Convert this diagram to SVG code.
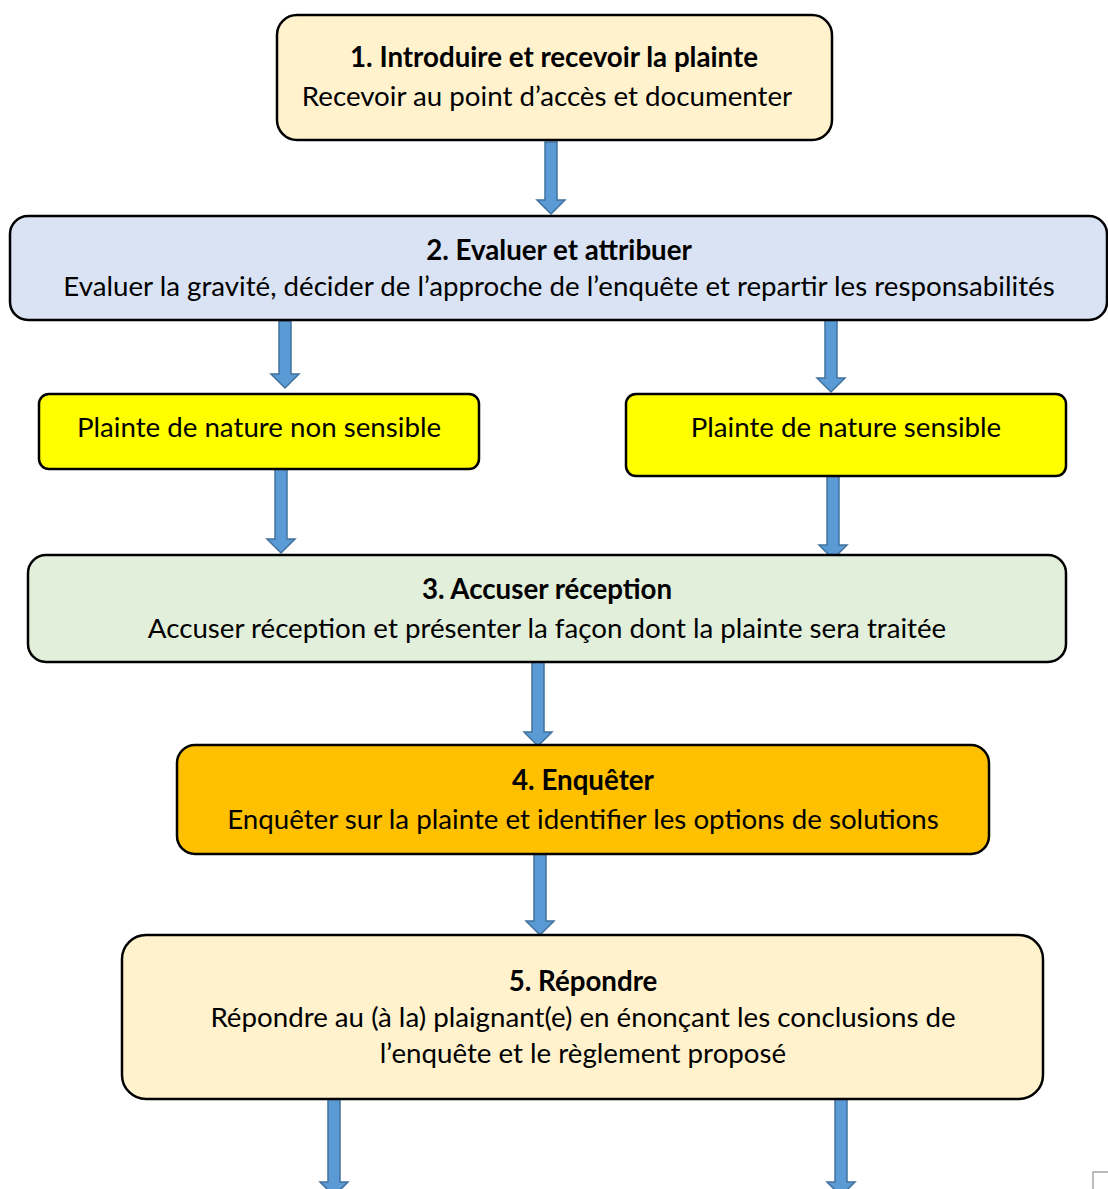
<svg xmlns="http://www.w3.org/2000/svg" width="1108" height="1189" viewBox="0 0 1108 1189">
  <style>
    .box { stroke: #000; stroke-width: 2.5; }
    .t { font-family: Lato, "Open Sans", sans-serif; font-size: 27.7px; fill: #000; text-anchor: middle; }
    .b { font-weight: bold; }
    .arrow { fill: #5b9bd5; stroke: #41719c; stroke-width: 1.5; }
  </style>

  <rect width="1108" height="1189" fill="#fff"/>

  <!-- downward block arrows between steps -->
  <g id="connectors">
    <path class="arrow" d="M545,142 H557 V200 H565 L551,214 L537,200 H545 Z"/>
    <path class="arrow" d="M279,321 H291 V374 H299 L285,388 L271,374 H279 Z"/>
    <path class="arrow" d="M825,318 H837 V378 H845 L831,392 L817,378 H825 Z"/>
    <path class="arrow" d="M275,467 H287 V539 H295 L281,553 L267,539 H275 Z"/>
    <path class="arrow" d="M827,476 H839 V545 H847 L833,559 L819,545 H827 Z"/>
    <path class="arrow" d="M532,662 H544 V732 H552 L538,746 L524,732 H532 Z"/>
    <path class="arrow" d="M534,853 H546 V921 H554 L540,935 L526,921 H534 Z"/>
    <path class="arrow" d="M328,1099 H340 V1182 H348 L334,1196 L320,1182 H328 Z"/>
    <path class="arrow" d="M835,1099 H847 V1182 H855 L841,1196 L827,1182 H835 Z"/>
  </g>

  <g id="step1">
    <rect class="box" x="277" y="15" width="555" height="125" rx="20" fill="#fff2cc"/>
    <text class="t b" x="554" y="67">1. Introduire et recevoir la plainte</text>
    <text class="t" x="547" y="106">Recevoir au point d’accès et documenter</text>
  </g>

  <g id="step2">
    <rect class="box" x="10" y="216" width="1097" height="104" rx="18" fill="#dae3f3"/>
    <text class="t b" x="559" y="260">2. Evaluer et attribuer</text>
    <text class="t" x="559" y="296">Evaluer la gravité, décider de l’approche de l’enquête et repartir les responsabilités</text>
  </g>

  <g id="non-sensitive">
    <rect class="box" x="39" y="394" width="440" height="75" rx="10" fill="#ffff00"/>
    <text class="t" x="259" y="437">Plainte de nature non sensible</text>
  </g>

  <g id="sensitive">
    <rect class="box" x="626" y="394" width="440" height="82" rx="10" fill="#ffff00"/>
    <text class="t" x="846" y="437">Plainte de nature sensible</text>
  </g>

  <g id="step3">
    <rect class="box" x="28" y="555" width="1038" height="107" rx="18" fill="#e2efda"/>
    <text class="t b" x="547" y="599">3. Accuser réception</text>
    <text class="t" x="547" y="638">Accuser réception et présenter la façon dont la plainte sera traitée</text>
  </g>

  <g id="step4">
    <rect class="box" x="177" y="745" width="812" height="109" rx="18" fill="#ffc000"/>
    <text class="t b" x="583" y="790">4. Enquêter</text>
    <text class="t" x="583" y="829">Enquêter sur la plainte et identifier les options de solutions</text>
  </g>

  <g id="step5">
    <rect class="box" x="122" y="935" width="921" height="164" rx="24" fill="#fff2cc"/>
    <text class="t b" x="583" y="991">5. Répondre</text>
    <text class="t" x="583" y="1027">Répondre au (à la) plaignant(e) en énonçant les conclusions de</text>
    <text class="t" x="583" y="1063">l’enquête et le règlement proposé</text>
  </g>

  <!-- page corner mark -->
  <path d="M1093,1189 V1172 H1108" fill="none" stroke="#a6a6a6" stroke-width="1.5"/>
</svg>
